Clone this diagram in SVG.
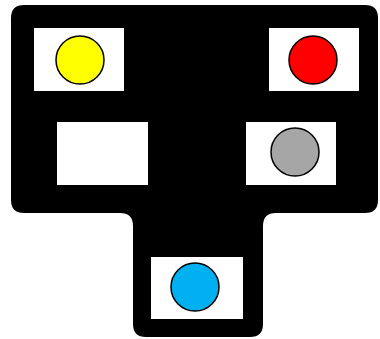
<svg xmlns="http://www.w3.org/2000/svg" width="380" height="339" viewBox="0 0 380 339">
<style>
.slot{fill:#ffffff;}
.dot{stroke:#000000;stroke-width:1.5;}
</style>
<rect width="380" height="339" fill="#ffffff"/>
<g id="body">
<path d="M24,5 H365 Q378,5 378,18 V200 Q378,213 365,213 H276 Q263,213 263,226 V324 Q263,337 250,337 H146 Q133,337 133,324 V226 Q133,213 120,213 H24 Q11,213 11,200 V18 Q11,5 24,5 Z" fill="#000000"/>
</g>
<g id="slot-yellow">
<rect class="slot" x="34" y="28" width="90" height="63"/>
<circle class="dot" cx="80" cy="60" r="24" fill="#ffff00"/>
</g>
<g id="slot-red">
<rect class="slot" x="269" y="28" width="90" height="63"/>
<circle class="dot" cx="313" cy="60" r="24" fill="#ff0000"/>
</g>
<g id="slot-empty">
<rect class="slot" x="57" y="122" width="91" height="63"/>
</g>
<g id="slot-gray">
<rect class="slot" x="246" y="122" width="90" height="63"/>
<circle class="dot" cx="295" cy="152" r="24" fill="#a6a6a6"/>
</g>
<g id="slot-blue">
<rect class="slot" x="151" y="257" width="92" height="62"/>
<circle class="dot" cx="195" cy="287" r="24" fill="#00b0f0"/>
</g>
<g id="connectors"></g>
</svg>
